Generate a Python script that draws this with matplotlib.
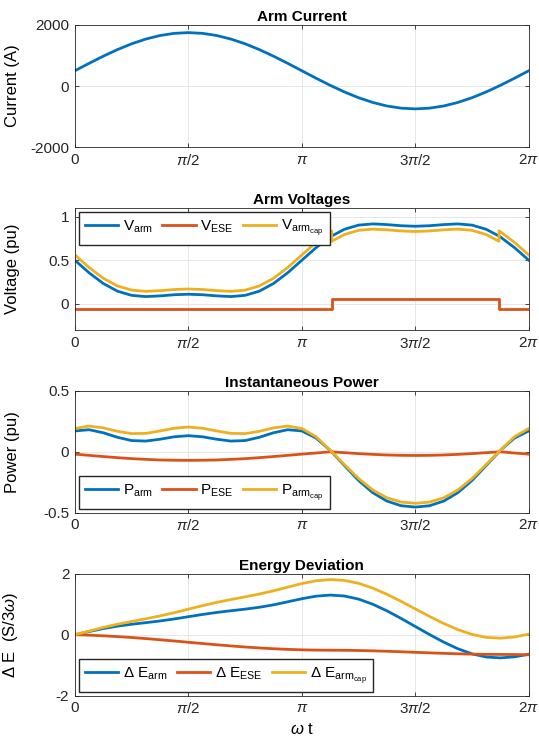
import numpy as np
import matplotlib
matplotlib.use("Agg")
import matplotlib.pyplot as plt

# sample angles in units of pi (step pi/16)
theta = np.arange(33) / 16
# angles where the ESE switches polarity (arm current zero crossings), units of pi
theta_sw = [1.131, 1.869]

# arm current (A)
i_arm = [500, 744, 978, 1194, 1384, 1539, 1655, 1726, 1750, 1726, 1655, 1539, 1384,
         1194, 978, 744, 500, 256, 22, -194, -384, -539, -655, -726, -750, -726,
         -655, -539, -384, -194, 22, 256, 500]

# arm voltages (pu), sampled on theta with the switching angles inserted twice
v_arm = [0.500, 0.356, 0.233, 0.145, 0.097, 0.083, 0.091, 0.104, 0.110, 0.104, 0.091,
         0.083, 0.097, 0.145, 0.233, 0.356, 0.500, 0.644, 0.767,
         0.777, 0.777,
         0.855, 0.903, 0.917, 0.909, 0.896, 0.890, 0.896, 0.909, 0.917, 0.903, 0.855,
         0.777, 0.777,
         0.767, 0.644, 0.500]
v_ese = [-0.06] * 19 + [-0.06, 0.06] + [0.06] * 11 + [0.06, -0.06] + [-0.06] * 3
v_cap = [0.560, 0.416, 0.293, 0.205, 0.157, 0.143, 0.151, 0.164, 0.170, 0.164, 0.151,
         0.143, 0.157, 0.205, 0.293, 0.416, 0.560, 0.704, 0.827,
         0.837, 0.717,
         0.795, 0.843, 0.857, 0.849, 0.836, 0.830, 0.836, 0.849, 0.857, 0.843, 0.795,
         0.717, 0.837,
         0.827, 0.704, 0.560]

# instantaneous power (pu)
p_arm = [0.170, 0.180, 0.155, 0.118, 0.091, 0.087, 0.102, 0.122, 0.131, 0.122, 0.102,
         0.087, 0.091, 0.118, 0.155, 0.180, 0.170, 0.112, 0.011, -0.113, -0.236, -0.336,
         -0.405, -0.443, -0.454, -0.443, -0.405, -0.336, -0.236, -0.113, 0.011, 0.112, 0.170]
p_ese = [-0.020, -0.030, -0.040, -0.049, -0.057, -0.063, -0.068, -0.070, -0.071, -0.070,
         -0.068, -0.063, -0.057, -0.049, -0.040, -0.030, -0.020, -0.011, -0.001, -0.008,
         -0.016, -0.022, -0.027, -0.030, -0.031, -0.030, -0.027, -0.022, -0.016, -0.008,
         -0.001, -0.011, -0.020]
p_cap = [0.190, 0.210, 0.195, 0.167, 0.148, 0.150, 0.170, 0.192, 0.202, 0.192, 0.170,
         0.150, 0.148, 0.167, 0.195, 0.210, 0.190, 0.123, 0.012, -0.105, -0.220, -0.314,
         -0.378, -0.413, -0.423, -0.413, -0.378, -0.314, -0.220, -0.105, 0.012, 0.123, 0.190]

# energy deviation (S/3w)
e_arm = [0.0, 0.103, 0.201, 0.281, 0.343, 0.395, 0.450, 0.516, 0.590, 0.664, 0.730,
         0.786, 0.838, 0.899, 0.979, 1.078, 1.180, 1.263, 1.299, 1.269, 1.167, 0.999,
         0.782, 0.533, 0.269, 0.006, -0.243, -0.460, -0.628, -0.731, -0.760, -0.724, -0.642]
e_ese = [0.0, -0.015, -0.036, -0.062, -0.092, -0.127, -0.166, -0.206, -0.248, -0.289,
         -0.330, -0.368, -0.403, -0.434, -0.460, -0.481, -0.496, -0.505, -0.508, -0.511,
         -0.518, -0.529, -0.543, -0.559, -0.577, -0.595, -0.611, -0.626, -0.637, -0.644,
         -0.646, -0.650, -0.659]
e_cap = [0.0, 0.118, 0.237, 0.343, 0.435, 0.522, 0.616, 0.722, 0.838, 0.953, 1.060,
         1.154, 1.241, 1.333, 1.439, 1.559, 1.676, 1.768, 1.807, 1.780, 1.685, 1.528,
         1.325, 1.092, 0.846, 0.601, 0.368, 0.166, 0.009, -0.087, -0.114, -0.074, 0.017]

xtick_pos = [0, 0.5, 1, 1.5, 2]
xtick_lab = ["0", r"$\pi$/2", r"$\pi$", r"3$\pi$/2", r"2$\pi$"]

BLUE, RED, YELLOW = "#0072BD", "#D95319", "#EDB120"
DARK = "#262626"

plt.rcParams.update({
    "font.family": ["Liberation Sans", "DejaVu Sans"],
    "font.size": 10,
    "mathtext.fontset": "custom",
    "mathtext.rm": "Liberation Sans",
    "mathtext.it": "Liberation Sans:italic",
    "mathtext.bf": "Liberation Sans:bold",
    "axes.unicode_minus": False,
    "axes.edgecolor": DARK,
    "axes.linewidth": 0.6,
    "xtick.color": DARK,
    "ytick.color": DARK,
    "xtick.direction": "in",
    "ytick.direction": "in",
    "xtick.major.size": 3,
    "ytick.major.size": 3,
    "xtick.major.width": 0.6,
    "ytick.major.width": 0.6,
})

theta_v = np.concatenate([theta[:19], [theta_sw[0]] * 2, theta[19:30],
                          [theta_sw[1]] * 2, theta[30:]])
x = theta * np.pi
x_v = theta_v * np.pi

fig = plt.figure(figsize=(5.39, 7.44), dpi=100)
left, width, height = 0.139, 0.842, 0.164
bottoms = [0.8024, 0.5565, 0.3109, 0.0649]
axes = [fig.add_axes([left, b, width, height]) for b in bottoms]


def style(ax, title, ylabel, ylim, yticks, ylabels):
    ax.set_xlim(0, 2 * np.pi)
    ax.set_ylim(*ylim)
    ax.set_xticks([p * np.pi for p in xtick_pos])
    ax.set_xticklabels(xtick_lab)
    ax.set_yticks(yticks)
    ax.set_yticklabels(ylabels)
    ax.tick_params(top=True, right=True, pad=4, labelsize=11)
    ax.grid(True, color="#e3e3e3", linewidth=0.6)
    ax.set_axisbelow(True)
    ax.set_title(title, fontweight="bold", fontsize=11, pad=3)
    ax.set_ylabel(ylabel, fontsize=12)
    ax.yaxis.set_label_coords(-0.122, 0.5)


def legend(ax, loc):
    ax.legend(loc=loc, ncol=3, fancybox=False, framealpha=1, edgecolor=DARK,
              handlelength=2.2, handletextpad=0.3, columnspacing=0.6,
              borderaxespad=0.25, borderpad=0.4, fontsize=11)


lw = 2.0
ax1, ax2, ax3, ax4 = axes

ax1.plot(x, i_arm, color=BLUE, lw=lw)
style(ax1, "Arm Current", "Current (A)", (-2000, 2000), [-2000, 0, 2000],
      ["-2000", "0", "2000"])

ax2.plot(x_v, v_arm, color=BLUE, lw=lw, label=r"V$_{\mathrm{arm}}$")
ax2.plot(x_v, v_ese, color=RED, lw=lw, label=r"V$_{\mathrm{ESE}}$")
ax2.plot(x_v, v_cap, color=YELLOW, lw=lw, label=r"V$_{\mathrm{arm}_{\mathrm{cap}}}$")
style(ax2, "Arm Voltages", "Voltage (pu)", (-0.3, 1.1), [0, 0.5, 1], ["0", "0.5", "1"])
legend(ax2, "upper left")

ax3.plot(x, p_arm, color=BLUE, lw=lw, label=r"P$_{\mathrm{arm}}$")
ax3.plot(x, p_ese, color=RED, lw=lw, label=r"P$_{\mathrm{ESE}}$")
ax3.plot(x, p_cap, color=YELLOW, lw=lw, label=r"P$_{\mathrm{arm}_{\mathrm{cap}}}$")
style(ax3, "Instantaneous Power", "Power (pu)", (-0.5, 0.5), [-0.5, 0, 0.5],
      ["-0.5", "0", "0.5"])
legend(ax3, "lower left")

ax4.plot(x, e_arm, color=BLUE, lw=lw, label=r"$\Delta$ E$_{\mathrm{arm}}$")
ax4.plot(x, e_ese, color=RED, lw=lw, label=r"$\Delta$ E$_{\mathrm{ESE}}$")
ax4.plot(x, e_cap, color=YELLOW, lw=lw, label=r"$\Delta$ E$_{\mathrm{arm}_{\mathrm{cap}}}$")
style(ax4, "Energy Deviation", r"$\Delta$ E  (S/3$\omega$)", (-2, 2), [-2, 0, 2],
      ["-2", "0", "2"])
ax4.set_xlabel(r"$\omega$ t", fontsize=12)
legend(ax4, "lower left")

fig.savefig("out.png", dpi=100)
